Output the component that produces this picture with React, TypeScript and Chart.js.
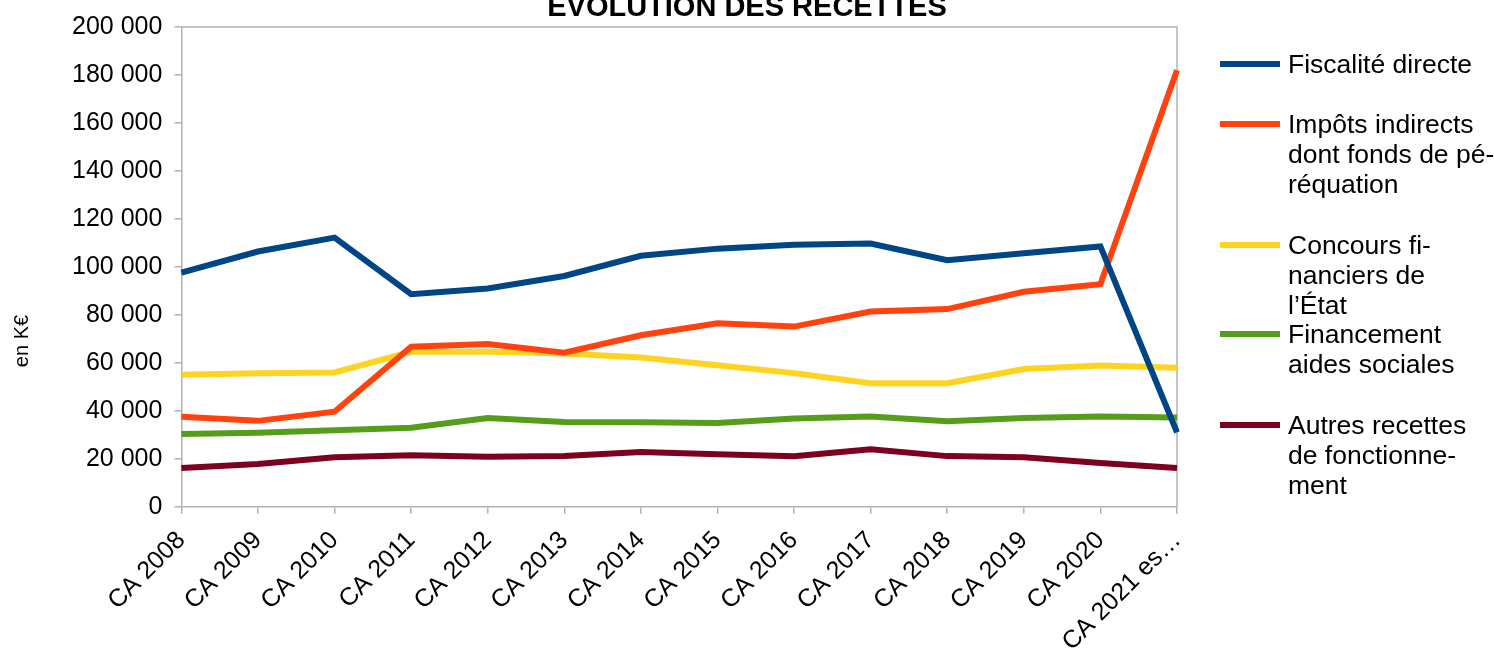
import React, { useEffect, useRef } from "react";
import { Chart, registerables } from "chart.js";

Chart.register(...registerables);

const categories = [
  "CA 2008", "CA 2009", "CA 2010", "CA 2011", "CA 2012", "CA 2013", "CA 2014",
  "CA 2015", "CA 2016", "CA 2017", "CA 2018", "CA 2019", "CA 2020", "CA 2021 es…",
];

const fiscaliteDirecte = [97600, 106400, 112200, 88600, 91000, 96200, 104600, 107600, 109200, 109700, 102800, 105700, 108500, 31000];
const impotsIndirects = [37500, 35800, 39600, 66700, 67800, 64200, 71500, 76500, 75100, 81400, 82400, 89600, 92800, 182000];
const concoursEtat = [55000, 55600, 56000, 64600, 64600, 63900, 62200, 59000, 55700, 51500, 51500, 57400, 58900, 57900];
const financementAides = [30300, 30800, 31900, 32900, 37000, 35300, 35200, 34900, 36800, 37600, 35600, 37000, 37600, 37200];
const autresRecettes = [16100, 17800, 20600, 21500, 20800, 21200, 22800, 21900, 21000, 24000, 21100, 20600, 18200, 16100];

const seriesNames = [
  "Fiscalité directe",
  "Impôts indirects dont fonds de péréquation",
  "Concours financiers de l’État",
  "Financement aides sociales",
  "Autres recettes de fonctionnement",
];
const legendLines = [
  ["Fiscalité directe"],
  ["Impôts indirects", "dont fonds de pé-", "réquation"],
  ["Concours fi-", "nanciers de", "l’État"],
  ["Financement", "aides sociales"],
  ["Autres recettes", "de fonctionne-", "ment"],
];
const seriesColors = ["#004586", "#ff420e", "#ffd320", "#579d1c", "#7e0021"];
const legendTops = [64, 124, 245, 334, 425];

const titleText = "ÉVOLUTION DES RECETTES";
const yAxisTitle = "en K€";
const FONT = "'Liberation Sans', Arial, sans-serif";
const AXIS_COLOR = "#b3b3b3";
const CANVAS_W = 1494;
const CANVAS_H = 669;

const extrasPlugin = {
  id: "extras",
  beforeDatasetsDraw(chart: any) {
    const { ctx, chartArea } = chart;
    ctx.save();
    ctx.strokeStyle = AXIS_COLOR;
    ctx.lineWidth = 1.5;
    ctx.beginPath();
    ctx.moveTo(chartArea.left, chartArea.top);
    ctx.lineTo(chartArea.right, chartArea.top);
    ctx.lineTo(chartArea.right, chartArea.bottom);
    ctx.stroke();
    ctx.restore();
  },
  afterDraw(chart: any) {
    const { ctx } = chart;
    ctx.save();
    ctx.fillStyle = "#000";
    ctx.font = `bold 29px ${FONT}`;
    ctx.textAlign = "center";
    ctx.textBaseline = "alphabetic";
    ctx.fillText(titleText, 747, 16);
    ctx.translate(22, 341);
    ctx.rotate(-Math.PI / 2);
    ctx.font = `20px ${FONT}`;
    ctx.textBaseline = "middle";
    ctx.fillText(yAxisTitle, 0, 0);
    ctx.restore();
  },
};

export default function App() {
  const canvasRef = useRef<HTMLCanvasElement | null>(null);

  useEffect(() => {
    if (!canvasRef.current) return;
    const data = [fiscaliteDirecte, impotsIndirects, concoursEtat, financementAides, autresRecettes];
    const chart = new Chart(canvasRef.current, {
      type: "line",
      data: {
        labels: categories,
        datasets: data.map((d, i) => ({
          label: seriesNames[i],
          data: d,
          borderColor: seriesColors[i],
          backgroundColor: seriesColors[i],
          borderWidth: 6,
          pointRadius: 0,
          pointHoverRadius: 0,
          tension: 0,
          fill: false,
        })),
      },
      options: {
        responsive: false,
        animation: false,
        devicePixelRatio: 1,
        layout: { padding: { left: 60, right: 317, top: 26, bottom: 0 } },
        plugins: {
          legend: { display: false },
          title: { display: false },
          tooltip: { enabled: false },
        },
        scales: {
          x: {
            offset: false,
            grid: {
              display: true,
              drawOnChartArea: false,
              drawTicks: true,
              tickLength: 7,
              color: AXIS_COLOR,
              lineWidth: 1.5,
            },
            border: { display: true, color: AXIS_COLOR, width: 1.5 },
            ticks: {
              autoSkip: false,
              minRotation: 45,
              maxRotation: 45,
              color: "#000",
              font: { family: FONT, size: 25 },
              padding: 12,
            },
          },
          y: {
            min: 0,
            max: 200000,
            grid: {
              display: true,
              drawOnChartArea: false,
              drawTicks: true,
              tickLength: 7,
              color: AXIS_COLOR,
              lineWidth: 1.5,
            },
            border: { display: true, color: AXIS_COLOR, width: 1.5 },
            ticks: {
              stepSize: 20000,
              color: "#000",
              font: { family: FONT, size: 25 },
              padding: 12,
              callback: (v: any) => {
                const n = Number(v);
                return n.toString().replace(/\B(?=(\d{3})+(?!\d))/g, " ");
              },
            },
          },
        },
      },
      plugins: [extrasPlugin],
    });
    return () => chart.destroy();
  }, []);

  return (
    <div style={{ position: "fixed", left: 0, top: 0, width: 1494, height: 648, background: "#fff", overflow: "hidden" }}>
      <canvas
        ref={canvasRef}
        width={CANVAS_W}
        height={CANVAS_H}
        style={{ position: "absolute", left: 0, top: 0, display: "block", width: CANVAS_W, height: CANVAS_H }}
      />
      {legendLines.map((lines, i) => (
        <div key={i}>
          <div
            style={{
              position: "absolute",
              left: 1220,
              top: legendTops[i] - 3,
              width: 60,
              height: 6,
              background: seriesColors[i],
            }}
          />
          <div
            style={{
              position: "absolute",
              left: 1288,
              top: legendTops[i] - 15.5,
              fontFamily: FONT,
              fontSize: 26.5,
              lineHeight: "30px",
              color: "#000",
              whiteSpace: "nowrap",
            }}
          >
            {lines.map((l, j) => (
              <div key={j}>{l}</div>
            ))}
          </div>
        </div>
      ))}
    </div>
  );
}
